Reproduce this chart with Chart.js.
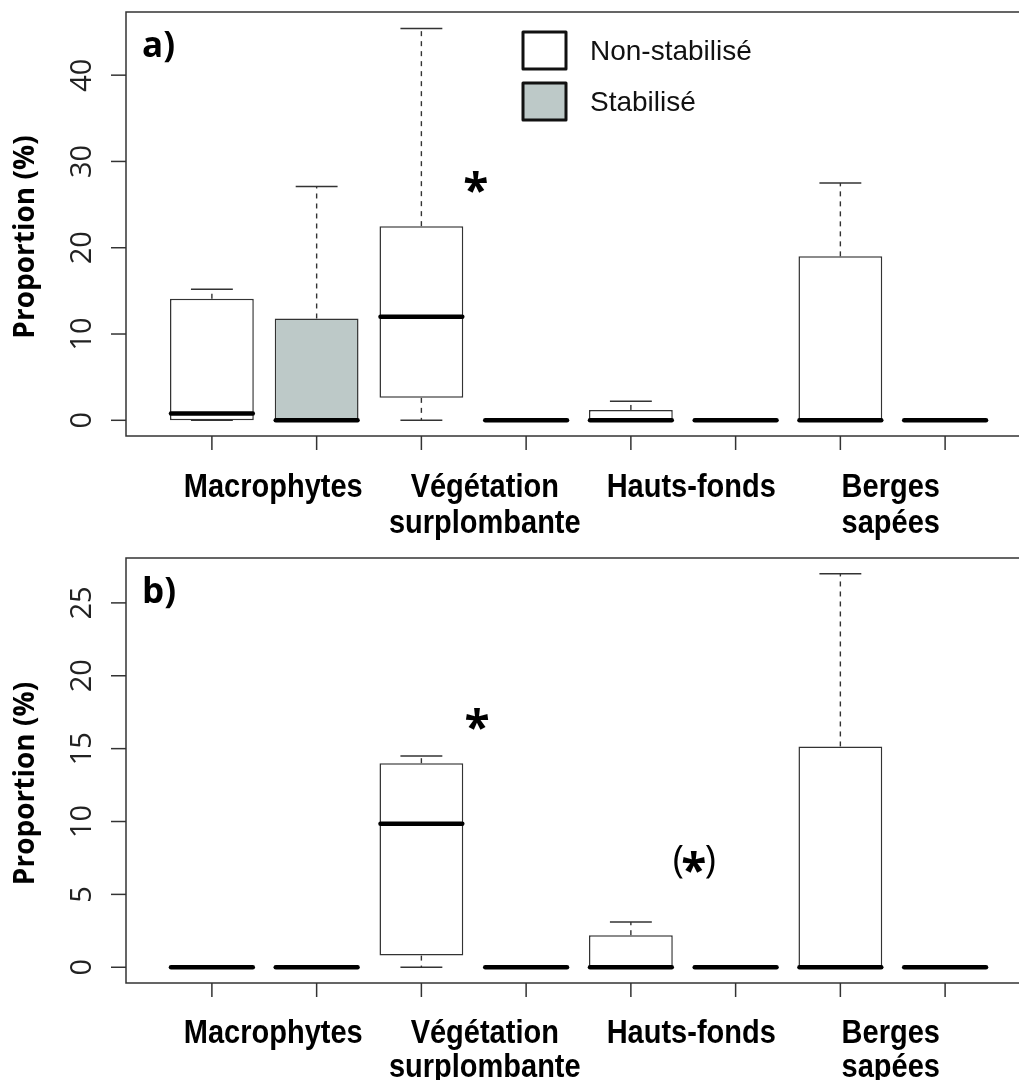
<!DOCTYPE html>
<html>
<head>
<meta charset="utf-8">
<script src="https://cdn.jsdelivr.net/npm/chart.js@4.4.1/dist/chart.umd.min.js"></script>
<style>
  html, body { margin: 0; padding: 0; background: #fff; overflow: hidden; }
  #wrap { width: 1019px; height: 1080px; overflow: hidden; position: relative; }
  canvas { display: block; }
</style>
</head>
<body>
<div id="wrap">
  <canvas id="chartA" width="1045" height="548"></canvas>
  <canvas id="chartB" width="1045" height="532"></canvas>
</div>
<script>
// habitats, each one has a pair of boxes : non-stabilise / stabilise
var habitats = [['Macrophytes'], ['Végétation', 'surplombante'], ['Hauts-fonds'], ['Berges', 'sapées']];
var positions = [1, 2, 3, 4, 5, 6, 7, 8];
var seriesNames = ['Non-stabilisé', 'Stabilisé'];
var seriesFill = ['#ffffff', '#bdc9c8'];

// panel a) - order : Macro NS, Macro S, Veg NS, Veg S, Hauts NS, Hauts S, Berges NS, Berges S
var aLow  = [0, 0, 0, 0, 0, 0, 0, 0];
var aQ1   = [0, 0, 2.6, 0, 0, 0, 0, 0];
var aMed  = [0.8, 0, 12.0, 0, 0, 0, 0, 0];
var aQ3   = [14.1, 11.8, 22.5, 0, 1.2, 0, 19.0, 0];
var aHigh = [15.2, 27.1, 45.4, 0, 2.2, 0, 27.5, 0];
var aTicks = [0, 10, 20, 30, 40];

// panel b)
var bLow  = [0, 0, 0, 0, 0, 0, 0, 0];
var bQ1   = [0, 0, 0.8, 0, 0, 0, 0, 0];
var bMed  = [0, 0, 9.85, 0, 0, 0, 0, 0];
var bQ3   = [0, 0, 14.0, 0, 2.2, 0, 15.15, 0];
var bHigh = [0, 0, 14.5, 0, 3.1, 0, 27.0, 0];
var bTicks = [0, 5, 10, 15, 20, 25];

function buildDatasets(q1, q3) {
  var sets = [];
  for (var s = 0; s < 2; s++) {
    var pts = [];
    for (var i = s; i < positions.length; i += 2) {
      pts.push({ x: positions[i], y: [q1[i], q3[i]] });
    }
    sets.push({
      label: seriesNames[s],
      data: pts,
      backgroundColor: seriesFill[s],
      borderColor: '#333',
      borderWidth: 1.5,
      borderSkipped: false,
      grouped: false,
      barPercentage: 0.8,
      categoryPercentage: 1.0
    });
  }
  return sets;
}

function line(ctx, x1, y1, x2, y2) {
  ctx.beginPath();
  ctx.moveTo(x1, y1);
  ctx.lineTo(x2, y2);
  ctx.stroke();
}

// draw a text so that its glyph box is centred on (cx, cy)
function centredText(ctx, txt, cx, cy) {
  ctx.textAlign = 'left';
  ctx.textBaseline = 'alphabetic';
  var m = ctx.measureText(txt);
  var w = m.actualBoundingBoxLeft + m.actualBoundingBoxRight;
  var x = cx - w / 2 + m.actualBoundingBoxLeft;
  var y = cy - (m.actualBoundingBoxDescent - m.actualBoundingBoxAscent) / 2;
  ctx.fillText(txt, x, y);
}

function makeExtras(cfg) {
  return {
    id: 'boxExtras',
    afterDatasetsDraw: function (chart) {
      var ctx = chart.ctx;
      var xs = chart.scales.x, ys = chart.scales.y, area = chart.chartArea;
      var half = xs.getPixelForValue(1.4) - xs.getPixelForValue(1);
      var capHalf = xs.getPixelForValue(1.2) - xs.getPixelForValue(1);
      ctx.save();

      for (var i = 0; i < positions.length; i++) {
        var cx = xs.getPixelForValue(positions[i]);
        var yHi = ys.getPixelForValue(cfg.high[i]);
        var yLo = ys.getPixelForValue(cfg.low[i]);
        ctx.strokeStyle = '#333';
        ctx.lineWidth = 1.4;
        ctx.lineCap = 'butt';
        ctx.setLineDash([5, 5]);
        if (cfg.high[i] > cfg.q3[i]) line(ctx, cx, ys.getPixelForValue(cfg.q3[i]), cx, yHi);
        if (cfg.low[i] < cfg.q1[i]) line(ctx, cx, ys.getPixelForValue(cfg.q1[i]), cx, yLo);
        ctx.setLineDash([]);
        ctx.lineWidth = 1.5;
        line(ctx, cx - capHalf, yHi, cx + capHalf, yHi);
        line(ctx, cx - capHalf, yLo, cx + capHalf, yLo);
        // median
        var yMed = ys.getPixelForValue(cfg.med[i]);
        ctx.strokeStyle = '#000';
        ctx.lineWidth = 4.5;
        ctx.lineCap = 'round';
        line(ctx, cx - half + 1, yMed, cx + half - 1, yMed);
      }

      // frame
      ctx.lineCap = 'butt';
      ctx.strokeStyle = '#333';
      ctx.lineWidth = 1.5;
      ctx.strokeRect(area.left, area.top, area.right - area.left, area.bottom - area.top);

      // y axis
      ctx.fillStyle = '#222';
      ctx.font = '29px "Open Sans"';
      for (var t = 0; t < cfg.ticks.length; t++) {
        var ty = ys.getPixelForValue(cfg.ticks[t]);
        line(ctx, area.left - 15, ty, area.left, ty);
        ctx.save();
        ctx.translate(area.left - 35, ty);
        ctx.rotate(-Math.PI / 2);
        ctx.textAlign = 'center';
        ctx.textBaseline = 'alphabetic';
        ctx.fillText(String(cfg.ticks[t]), 0, 0);
        ctx.restore();
      }
      ctx.save();
      ctx.fillStyle = '#000';
      ctx.translate(34, (area.top + area.bottom) / 2 + 13);
      ctx.rotate(-Math.PI / 2);
      ctx.font = 'bold 28px "Open Sans"';
      ctx.textAlign = 'center';
      ctx.textBaseline = 'alphabetic';
      ctx.fillText('Proportion (%)', 0, 0);
      ctx.restore();

      // x axis
      for (var p = 0; p < positions.length; p++) {
        var px = xs.getPixelForValue(positions[p]);
        line(ctx, px, area.bottom, px, area.bottom + 14);
      }
      var nudge = [9, 11, 8, -2];
      ctx.font = 'bold 29px "Liberation Sans", Arial, sans-serif';
      ctx.textAlign = 'center';
      ctx.textBaseline = 'alphabetic';
      ctx.fillStyle = '#000';
      for (var g = 0; g < habitats.length; g++) {
        var gx = xs.getPixelForValue(2 * g + 1.5) + nudge[g];
        for (var l = 0; l < habitats[g].length; l++) {
          ctx.save();
          ctx.translate(gx, area.bottom + cfg.labelGap + l * cfg.lineGap);
          ctx.scale(1, 1.12);
          ctx.fillText(habitats[g][l], 0, 0);
          ctx.restore();
        }
      }

      // panel letter
      ctx.font = 'bold 35px "Open Sans"';
      ctx.textAlign = 'left';
      ctx.fillText(cfg.letter, area.left + 16, area.top + 45);

      // significance marks
      for (var n = 0; n < cfg.notes.length; n++) {
        var note = cfg.notes[n];
        var nx = xs.getPixelForValue(note.x), ny = ys.getPixelForValue(note.y);
        if (note.paren) {
          ctx.font = '38px "Open Sans"';
          ctx.textAlign = 'left';
          ctx.textBaseline = 'alphabetic';
          var mp = ctx.measureText('(');
          var py = ny - (mp.actualBoundingBoxDescent - mp.actualBoundingBoxAscent) / 2;
          ctx.fillText('(', nx - 20 + mp.actualBoundingBoxLeft, py);
          ctx.fillText(')', nx + 12 + mp.actualBoundingBoxLeft, py);
        }
        ctx.font = 'bold 46px "Open Sans"';
        centredText(ctx, '*', nx, ny);
      }

      // legend
      if (cfg.legend) {
        var lx = area.left + 397, ly = area.top + 20;
        for (var s = 0; s < 2; s++) {
          var by = ly + s * 51;
          ctx.fillStyle = seriesFill[s];
          ctx.fillRect(lx, by, 43, 37);
          ctx.strokeStyle = '#111';
          ctx.lineWidth = 3;
          ctx.lineJoin = 'round';
          ctx.strokeRect(lx, by, 43, 37);
          ctx.fillStyle = '#111';
          ctx.font = '28px "Liberation Sans", Arial, sans-serif';
          ctx.textAlign = 'left';
          ctx.textBaseline = 'alphabetic';
          ctx.fillText(seriesNames[s], lx + 67, by + 28);
        }
      }
      ctx.restore();
    }
  };
}

function makeChart(id, stats, yMin, yMax, pad) {
  return new Chart(document.getElementById(id), {
    type: 'bar',
    data: { datasets: buildDatasets(stats.q1, stats.q3) },
    options: {
      responsive: false,
      animation: false,
      events: [],
      layout: { padding: pad },
      plugins: { legend: { display: false }, tooltip: { enabled: false } },
      scales: {
        x: {
          type: 'linear', min: 0.18, max: 8.82, offset: false, display: false,
          ticks: { stepSize: 1, includeBounds: false }
        },
        y: { type: 'linear', min: yMin, max: yMax, display: false }
      }
    },
    plugins: [makeExtras(stats)]
  });
}

makeChart('chartA', {
  low: aLow, q1: aQ1, med: aMed, q3: aQ3, high: aHigh, ticks: aTicks,
  letter: 'a)', legend: true, labelGap: 61, lineGap: 36,
  notes: [{ x: 3.52, y: 27.6 }]
}, -1.82, 47.32, { left: 126, top: 12, right: 14, bottom: 112 });

makeChart('chartB', {
  low: bLow, q1: bQ1, med: bMed, q3: bQ3, high: bHigh, ticks: bTicks,
  letter: 'b)', legend: false, labelGap: 60, lineGap: 34,
  notes: [{ x: 3.53, y: 17.0 }, { x: 5.6, y: 7.2, paren: true }]
}, -1.08, 28.08, { left: 126, top: 10, right: 14, bottom: 97 });
</script>
</body>
</html>
